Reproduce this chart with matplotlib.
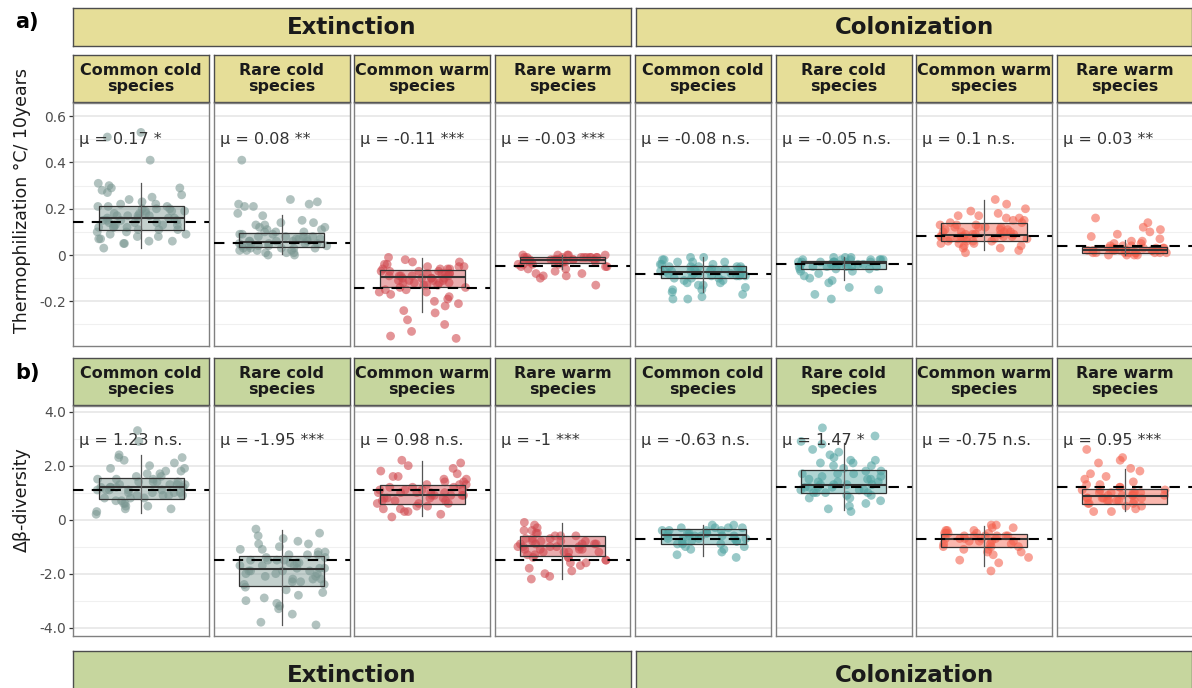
import numpy as np
import matplotlib
matplotlib.use("Agg")
import matplotlib.pyplot as plt

# ---------------- data ----------------
processes = ["Extinction", "Colonization"]
groups = ["Common cold\nspecies", "Rare cold\nspecies",
          "Common warm\nspecies", "Rare warm\nspecies"] * 2

# a) Thermophilization (°C / 10 years)
thermo_cc_ext = [0.51, 0.53, 0.41, 0.31, 0.30, 0.29, 0.28, 0.27, 0.26, 0.25, 0.24, 0.23, 0.22, 0.22,
                 0.21, 0.21, 0.20, 0.20, 0.20, 0.19, 0.19, 0.18, 0.18, 0.18, 0.17, 0.17, 0.17, 0.16,
                 0.16, 0.16, 0.16, 0.15, 0.15, 0.15, 0.14, 0.14, 0.14, 0.13, 0.13, 0.13, 0.12, 0.12,
                 0.12, 0.11, 0.11, 0.11, 0.10, 0.10, 0.09, 0.09, 0.08, 0.08, 0.07, 0.07, 0.06, 0.06,
                 0.05, 0.05, 0.03, 0.29, 0.21, 0.19, 0.17, 0.15, 0.13, 0.12]
thermo_rc_ext = [0.41, 0.24, 0.23, 0.22, 0.22, 0.21, 0.21, 0.18, 0.17, 0.15, 0.14, 0.14, 0.13, 0.13,
                 0.12, 0.12, 0.11, 0.11, 0.10, 0.10, 0.10, 0.09, 0.09, 0.09, 0.08, 0.08, 0.08, 0.08,
                 0.07, 0.07, 0.07, 0.07, 0.06, 0.06, 0.06, 0.06, 0.06, 0.05, 0.05, 0.05, 0.05, 0.05,
                 0.04, 0.04, 0.04, 0.04, 0.04, 0.03, 0.03, 0.03, 0.03, 0.03, 0.02, 0.02, 0.02, 0.02,
                 0.01, 0.01, 0.01, 0.00, 0.00]
thermo_cw_ext = [-0.01, -0.02, -0.03, -0.03, -0.04, -0.04, -0.05, -0.05, -0.05, -0.06, -0.06, -0.06,
                 -0.07, -0.07, -0.07, -0.07, -0.08, -0.08, -0.08, -0.08, -0.09, -0.09, -0.09, -0.09,
                 -0.09, -0.10, -0.10, -0.10, -0.10, -0.11, -0.11, -0.11, -0.11, -0.12, -0.12, -0.12,
                 -0.13, -0.13, -0.13, -0.14, -0.14, -0.15, -0.15, -0.16, -0.16, -0.17, -0.18, -0.19,
                 -0.20, -0.21, -0.22, -0.24, -0.25, -0.28, -0.30, -0.33, -0.35, -0.36, -0.12, -0.10,
                 -0.08, -0.06]
thermo_rw_ext = [0.00, 0.00, 0.00, -0.00, -0.01, -0.01, -0.01, -0.01, -0.01, -0.01, -0.01, -0.02,
                 -0.02, -0.02, -0.02, -0.02, -0.02, -0.02, -0.02, -0.03, -0.03, -0.03, -0.03, -0.03,
                 -0.03, -0.04, -0.04, -0.04, -0.04, -0.05, -0.05, -0.05, -0.06, -0.06, -0.07, -0.08,
                 -0.08, -0.09, -0.09, -0.10, -0.13, -0.01, -0.02, -0.02, -0.01, 0.00, -0.01, -0.03]
thermo_cc_col = [-0.01, -0.01, -0.02, -0.02, -0.03, -0.03, -0.03, -0.04, -0.04, -0.04, -0.05, -0.05,
                 -0.05, -0.05, -0.06, -0.06, -0.06, -0.06, -0.07, -0.07, -0.07, -0.07, -0.07, -0.08,
                 -0.08, -0.08, -0.08, -0.09, -0.09, -0.09, -0.09, -0.10, -0.10, -0.10, -0.11, -0.11,
                 -0.12, -0.12, -0.13, -0.13, -0.14, -0.15, -0.15, -0.16, -0.17, -0.18, -0.19, -0.19,
                 -0.06, -0.08, -0.05, -0.07]
thermo_rc_col = [-0.01, -0.01, -0.01, -0.02, -0.02, -0.02, -0.02, -0.02, -0.03, -0.03, -0.03, -0.03,
                 -0.03, -0.03, -0.04, -0.04, -0.04, -0.04, -0.04, -0.04, -0.05, -0.05, -0.05, -0.05,
                 -0.05, -0.06, -0.06, -0.06, -0.07, -0.07, -0.08, -0.09, -0.10, -0.11, -0.12, -0.14,
                 -0.15, -0.19, -0.17, -0.02, -0.03, -0.04, -0.05, -0.03, -0.02, -0.04]
thermo_cw_col = [0.24, 0.22, 0.20, 0.19, 0.18, 0.17, 0.17, 0.16, 0.16, 0.15, 0.15, 0.14, 0.14, 0.13,
                 0.13, 0.13, 0.12, 0.12, 0.12, 0.11, 0.11, 0.11, 0.10, 0.10, 0.10, 0.09, 0.09, 0.09,
                 0.09, 0.08, 0.08, 0.08, 0.08, 0.08, 0.07, 0.07, 0.07, 0.07, 0.06, 0.06, 0.06, 0.06,
                 0.05, 0.05, 0.05, 0.04, 0.04, 0.03, 0.03, 0.02, 0.01, 0.09, 0.08, 0.10, 0.07, 0.12]
thermo_rw_col = [0.16, 0.14, 0.12, 0.11, 0.10, 0.09, 0.08, 0.07, 0.06, 0.06, 0.05, 0.05, 0.04, 0.04,
                 0.04, 0.03, 0.03, 0.03, 0.03, 0.03, 0.03, 0.02, 0.02, 0.02, 0.02, 0.02, 0.02, 0.02,
                 0.02, 0.01, 0.01, 0.01, 0.01, 0.01, 0.01, 0.01, 0.00, 0.00, 0.00, 0.00, 0.02, 0.03,
                 0.01, 0.02, 0.01]
thermo_points = [thermo_cc_ext, thermo_rc_ext, thermo_cw_ext, thermo_rw_ext,
                 thermo_cc_col, thermo_rc_col, thermo_cw_col, thermo_rw_col]
thermo_q1 = [0.11, 0.035, -0.137, -0.036, -0.098, -0.059, 0.062, 0.010]
thermo_med = [0.16, 0.055, -0.094, -0.022, -0.072, -0.036, 0.086, 0.022]
thermo_q3 = [0.21, 0.095, -0.065, -0.007, -0.0475, -0.024, 0.137, 0.033]
thermo_lo = [0.03, 0.005, -0.245, -0.06, -0.158, -0.108, 0.02, 0.0]
thermo_hi = [0.31, 0.175, -0.014, 0.0, -0.007, -0.007, 0.24, 0.065]
thermo_null = [0.142, 0.05, -0.141, -0.0475, -0.081, -0.039, 0.082, 0.04]
thermo_labels = ["μ = 0.17 *", "μ = 0.08 **", "μ = -0.11 ***", "μ = -0.03 ***",
                 "μ = -0.08 n.s.", "μ = -0.05 n.s.", "μ = 0.1 n.s.", "μ = 0.03 **"]
thermo_ticks = [0.6, 0.4, 0.2, 0.0, -0.2]
thermo_ticklabels = ["0.6", "0.4", "0.2", "0", "-0.2"]

# b) Delta beta-diversity
beta_cc_ext = [3.3, 2.9, 2.4, 2.3, 2.3, 2.2, 2.1, 2.0, 1.9, 1.9, 1.8, 1.8, 1.7, 1.7, 1.6, 1.6, 1.5,
               1.5, 1.5, 1.4, 1.4, 1.4, 1.3, 1.3, 1.3, 1.3, 1.2, 1.2, 1.2, 1.2, 1.1, 1.1, 1.1, 1.1,
               1.0, 1.0, 1.0, 0.9, 0.9, 0.9, 0.8, 0.8, 0.8, 0.7, 0.7, 0.6, 0.6, 0.5, 0.5, 0.4, 0.4,
               0.3, 0.2, 1.2, 1.0, 1.4, 1.1, 0.9]
beta_rc_ext = [-0.35, -0.5, -0.6, -0.7, -0.8, -0.9, -0.9, -1.0, -1.1, -1.1, -1.2, -1.2, -1.3, -1.3,
               -1.3, -1.4, -1.4, -1.5, -1.5, -1.5, -1.6, -1.6, -1.6, -1.7, -1.7, -1.8, -1.8, -1.8,
               -1.9, -1.9, -1.9, -2.0, -2.0, -2.1, -2.1, -2.2, -2.2, -2.3, -2.3, -2.4, -2.4, -2.5,
               -2.6, -2.7, -2.8, -2.9, -3.0, -3.1, -3.2, -3.3, -3.5, -3.8, -3.9, -1.7, -2.0, -1.5,
               -2.2, -1.9]
beta_cw_ext = [2.2, 2.1, 2.0, 1.9, 1.8, 1.7, 1.6, 1.6, 1.5, 1.5, 1.4, 1.4, 1.3, 1.3, 1.3, 1.2, 1.2,
               1.2, 1.1, 1.1, 1.1, 1.0, 1.0, 1.0, 1.0, 0.9, 0.9, 0.9, 0.9, 0.8, 0.8, 0.8, 0.7, 0.7,
               0.7, 0.6, 0.6, 0.6, 0.5, 0.5, 0.4, 0.4, 0.3, 0.3, 0.2, 0.1, 1.0, 0.9, 1.1, 0.8]
beta_rw_ext = [-0.1, -0.2, -0.3, -0.4, -0.4, -0.5, -0.5, -0.6, -0.6, -0.7, -0.7, -0.7, -0.8, -0.8,
               -0.8, -0.9, -0.9, -0.9, -0.9, -1.0, -1.0, -1.0, -1.0, -1.1, -1.1, -1.1, -1.2, -1.2,
               -1.2, -1.3, -1.3, -1.4, -1.4, -1.5, -1.5, -1.6, -1.6, -1.7, -1.8, -1.9, -2.0, -2.1,
               -2.2, -1.0, -0.9, -1.1, -0.8, -1.2, -0.6, -1.4]
beta_cc_col = [-0.2, -0.2, -0.3, -0.3, -0.3, -0.4, -0.4, -0.4, -0.5, -0.5, -0.5, -0.5, -0.6, -0.6,
               -0.6, -0.6, -0.7, -0.7, -0.7, -0.7, -0.8, -0.8, -0.8, -0.9, -0.9, -0.9, -1.0, -1.0,
               -1.1, -1.1, -1.2, -1.3, -1.4, -0.5, -0.6, -0.4, -0.7, -0.3, -0.8, -0.6]
beta_rc_col = [3.4, 3.1, 2.9, 2.8, 2.6, 2.5, 2.4, 2.3, 2.2, 2.2, 2.1, 2.0, 2.0, 1.9, 1.8, 1.8, 1.7,
               1.7, 1.6, 1.6, 1.5, 1.5, 1.4, 1.4, 1.4, 1.3, 1.3, 1.3, 1.2, 1.2, 1.2, 1.1, 1.1, 1.1,
               1.0, 1.0, 1.0, 0.9, 0.9, 0.8, 0.8, 0.7, 0.6, 0.5, 0.4, 0.3, 1.3, 1.5, 1.2, 1.7, 1.0,
               2.1]
beta_cw_col = [-0.2, -0.2, -0.3, -0.3, -0.4, -0.4, -0.4, -0.5, -0.5, -0.5, -0.5, -0.6, -0.6, -0.6,
               -0.6, -0.7, -0.7, -0.7, -0.7, -0.8, -0.8, -0.8, -0.9, -0.9, -0.9, -1.0, -1.0, -1.0,
               -1.1, -1.1, -1.2, -1.2, -1.3, -1.4, -1.5, -1.6, -1.9, -0.6, -0.7, -0.5, -0.8, -0.6]
beta_rw_col = [2.6, 2.3, 2.2, 2.1, 1.9, 1.8, 1.7, 1.6, 1.5, 1.4, 1.3, 1.3, 1.2, 1.2, 1.1, 1.1, 1.1,
               1.0, 1.0, 1.0, 1.0, 0.9, 0.9, 0.9, 0.9, 0.8, 0.8, 0.8, 0.8, 0.7, 0.7, 0.7, 0.7, 0.6,
               0.6, 0.6, 0.5, 0.5, 0.4, 0.3, 0.3, 0.9, 0.8, 1.0, 0.7]
beta_points = [beta_cc_ext, beta_rc_ext, beta_cw_ext, beta_rw_ext,
               beta_cc_col, beta_rc_col, beta_cw_col, beta_rw_col]
beta_q1 = [0.77, -2.44, 0.59, -1.33, -0.89, 0.99, -1.01, 0.59]
beta_med = [1.2, -1.83, 0.93, -0.96, -0.58, 1.28, -0.72, 0.86]
beta_q3 = [1.53, -1.36, 1.30, -0.62, -0.33, 1.83, -0.52, 1.14]
beta_lo = [0.25, -3.89, 0.12, -2.2, -1.36, 0.37, -1.73, 0.31]
beta_hi = [2.4, -0.4, 2.16, -0.12, -0.21, 2.84, -0.22, 1.88]
beta_null = [1.09, -1.49, 1.11, -1.48, -0.70, 1.21, -0.70, 1.20]
beta_labels = ["μ = 1.23 n.s.", "μ = -1.95 ***", "μ = 0.98 n.s.", "μ = -1 ***",
               "μ = -0.63 n.s.", "μ = 1.47 *", "μ = -0.75 n.s.", "μ = 0.95 ***"]
beta_ticks = [4.0, 2.0, 0.0, -2.0, -4.0]
beta_ticklabels = ["4.0", "2.0", "0", "-2.0", "-4.0"]

# ---------------- styling ----------------
W, H = 1192, 688
fig = plt.figure(figsize=(W / 100, H / 100), dpi=100)
plt.rcParams['font.family'] = ['DejaVu Sans']

col_cold_ext = "#7a9792"
col_warm_ext = "#d0474d"
col_cold_col = "#4fa3a1"
col_warm_col = "#f4604c"
panel_colors = [col_cold_ext, col_cold_ext, col_warm_ext, col_warm_ext,
                col_cold_col, col_cold_col, col_warm_col, col_warm_col]
yellow = "#e6de98"
green = "#c6d69e"

def fr(x, y, w, h):
    """pixel box (top-left origin) -> figure fraction rect"""
    return [x / W, 1 - (y + h) / H, w / W, h / H]

lefts = [73 + i * 140.5 for i in range(8)]
pw = 136
rng = np.random.default_rng(11)  # horizontal jitter only (like geom_jitter)

def strip(rect, color, text, size):
    a = fig.add_axes(rect)
    a.set_facecolor(color)
    a.set_xticks([]); a.set_yticks([])
    for s in a.spines.values():
        s.set_color("#4d4d4d"); s.set_linewidth(1.0)
    a.text(0.5, 0.5, text, ha="center", va="center", fontsize=size,
           fontweight="bold", color="#1a1a1a", linespacing=1.05,
           transform=a.transAxes, clip_on=False)
    return a

def draw_row(ptop, pbot, stop, sbot, points, q1, med, q3, lo, hi, null, labels,
             ticks, ticklabels, ylim, minor, label_y, strip_color):
    for i in range(8):
        x0 = lefts[i]
        strip(fr(x0, stop, pw, sbot - stop), strip_color, groups[i], 11.5)
        ax = fig.add_axes(fr(x0, ptop, pw, pbot - ptop))
        c = panel_colors[i]
        vals = np.array(points[i])
        xj = 1 + rng.uniform(-0.4, 0.4, len(vals))
        ax.scatter(xj, vals, s=40, color=c, alpha=0.58, edgecolors="none", zorder=2)
        stats = [dict(q1=q1[i], med=med[i], q3=q3[i], whislo=lo[i], whishi=hi[i], fliers=[])]
        ax.bxp(stats, positions=[1], widths=0.75, patch_artist=True, showfliers=False,
               boxprops=dict(facecolor=(matplotlib.colors.to_rgba(c, 0.45)),
                             edgecolor="#333333", linewidth=0.9),
               medianprops=dict(color="#333333", linewidth=1.5),
               whiskerprops=dict(color="#555555", linewidth=0.9),
               capprops=dict(linewidth=0), manage_ticks=False, zorder=3)
        ax.vlines(1, q1[i], q3[i], color="#666666", linewidth=0.9, zorder=3.5)
        ax.axhline(null[i], color="black", linewidth=1.5, dashes=(5, 4), zorder=4)
        ax.set_xlim(0.4, 1.6)
        ax.set_ylim(*ylim)
        ax.set_xticks([])
        for m in minor:
            ax.axhline(m, color="#f0f0f0", linewidth=0.8, zorder=0)
        for t in ticks:
            ax.axhline(t, color="#e6e6e6", linewidth=1.2, zorder=0)
        ax.set_yticks(ticks)
        if i == 0:
            ax.set_yticklabels(ticklabels, fontsize=10, color="#4d4d4d")
            ax.tick_params(axis="y", length=3, width=0.9, color="#333333", pad=2)
        else:
            ax.tick_params(axis="y", length=0, labelleft=False)
        for s in ax.spines.values():
            s.set_color("#808080"); s.set_linewidth(1.0)
        ax.text(0.455, label_y, labels[i], ha="left", va="center", fontsize=11.5,
                color="#333333", zorder=5)

# top row
strip(fr(73, 8, 558, 38), yellow, processes[0], 16.5)
strip(fr(636, 8, 556, 38), yellow, processes[1], 16.5)
draw_row(103, 346, 55, 102, thermo_points, thermo_q1, thermo_med, thermo_q3, thermo_lo,
         thermo_hi, thermo_null, thermo_labels, thermo_ticks, thermo_ticklabels,
         (-0.393, 0.657), [0.5, 0.3, 0.1, -0.1, -0.3], 0.5, yellow)

# bottom row
draw_row(406, 636, 358, 405, beta_points, beta_q1, beta_med, beta_q3, beta_lo,
         beta_hi, beta_null, beta_labels, beta_ticks, beta_ticklabels,
         (-4.31, 4.21), [3.0, 1.0, -1.0, -3.0], 2.95, green)
strip(fr(73, 651, 558, 50), green, processes[0], 16.5)
strip(fr(636, 651, 556, 50), green, processes[1], 16.5)

fig.text(15 / W, 1 - 22 / H, "a)", fontsize=15, fontweight="bold", ha="left", va="center")
fig.text(15 / W, 1 - 373 / H, "b)", fontsize=15, fontweight="bold", ha="left", va="center")
fig.text(22 / W, 1 - 200 / H, "Thermophilization °C/ 10years", rotation=90, fontsize=12.5,
         ha="center", va="center", color="#1a1a1a")
fig.text(22 / W, 1 - 500 / H, "Δβ-diversity", rotation=90, fontsize=12.5,
         ha="center", va="center", color="#1a1a1a")

fig.savefig("out.png", dpi=100, facecolor="white")
